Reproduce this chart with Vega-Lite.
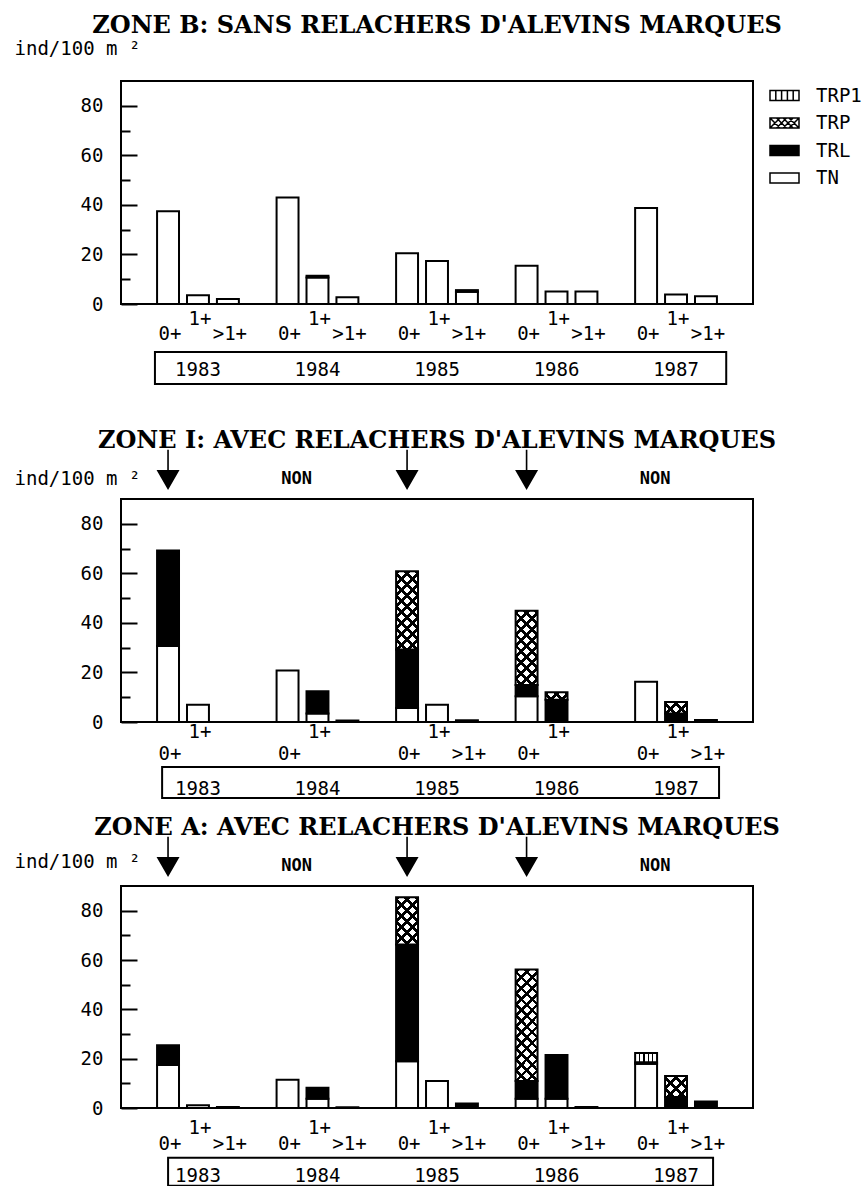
{
  "$schema": "https://vega.github.io/schema/vega-lite/v6.json",
  "background": "white",
  "padding": {"left": 13, "top": 13, "right": 0, "bottom": 0},
  "config": {
    "view": {"stroke": "black", "strokeWidth": 2},
    "title": {"font": "DejaVu Serif", "fontSize": 24, "fontWeight": "bold", "color": "black", "anchor": "middle", "frame": "group"},
    "text": {"font": "DejaVu Sans Mono", "fontSize": 19, "color": "black"}
  },
  "datasets": {
    "zoneB": [
      {"year": 1983, "age": "0+", "type": "TN", "value": 37.4},
      {"year": 1983, "age": "1+", "type": "TN", "value": 3.5},
      {"year": 1983, "age": ">1+", "type": "TN", "value": 2.0},
      {"year": 1984, "age": "0+", "type": "TN", "value": 43.0},
      {"year": 1984, "age": "1+", "type": "TN", "value": 10.7},
      {"year": 1984, "age": "1+", "type": "TRL", "value": 0.7},
      {"year": 1984, "age": ">1+", "type": "TN", "value": 2.7},
      {"year": 1985, "age": "0+", "type": "TN", "value": 20.5},
      {"year": 1985, "age": "1+", "type": "TN", "value": 17.4},
      {"year": 1985, "age": ">1+", "type": "TN", "value": 4.9},
      {"year": 1985, "age": ">1+", "type": "TRL", "value": 0.7},
      {"year": 1986, "age": "0+", "type": "TN", "value": 15.4},
      {"year": 1986, "age": "1+", "type": "TN", "value": 5.0},
      {"year": 1986, "age": ">1+", "type": "TN", "value": 5.0},
      {"year": 1987, "age": "0+", "type": "TN", "value": 38.7},
      {"year": 1987, "age": "1+", "type": "TN", "value": 3.8},
      {"year": 1987, "age": ">1+", "type": "TN", "value": 3.1}
    ],
    "zoneI": [
      {"year": 1983, "age": "0+", "type": "TN", "value": 30.7},
      {"year": 1983, "age": "0+", "type": "TRL", "value": 38.5},
      {"year": 1983, "age": "1+", "type": "TN", "value": 7.0},
      {"year": 1984, "age": "0+", "type": "TN", "value": 20.8},
      {"year": 1984, "age": "1+", "type": "TN", "value": 3.4},
      {"year": 1984, "age": "1+", "type": "TRL", "value": 9.0},
      {"year": 1984, "age": ">1+", "type": "TN", "value": 0.6},
      {"year": 1985, "age": "0+", "type": "TN", "value": 5.7},
      {"year": 1985, "age": "0+", "type": "TRL", "value": 23.6},
      {"year": 1985, "age": "0+", "type": "TRP", "value": 31.5},
      {"year": 1985, "age": "1+", "type": "TN", "value": 7.0},
      {"year": 1985, "age": ">1+", "type": "TN", "value": 0.7},
      {"year": 1986, "age": "0+", "type": "TN", "value": 10.4},
      {"year": 1986, "age": "0+", "type": "TRL", "value": 4.5},
      {"year": 1986, "age": "0+", "type": "TRP", "value": 30.0},
      {"year": 1986, "age": "1+", "type": "TRL", "value": 9.0},
      {"year": 1986, "age": "1+", "type": "TRP", "value": 3.0},
      {"year": 1987, "age": "0+", "type": "TN", "value": 16.2},
      {"year": 1987, "age": "1+", "type": "TRL", "value": 3.4},
      {"year": 1987, "age": "1+", "type": "TRP", "value": 4.7},
      {"year": 1987, "age": ">1+", "type": "TRL", "value": 0.8}
    ],
    "zoneA": [
      {"year": 1983, "age": "0+", "type": "TN", "value": 17.4},
      {"year": 1983, "age": "0+", "type": "TRL", "value": 8.0},
      {"year": 1983, "age": "1+", "type": "TN", "value": 1.1},
      {"year": 1983, "age": ">1+", "type": "TN", "value": 0.4},
      {"year": 1984, "age": "0+", "type": "TN", "value": 11.5},
      {"year": 1984, "age": "1+", "type": "TN", "value": 3.8},
      {"year": 1984, "age": "1+", "type": "TRL", "value": 4.4},
      {"year": 1984, "age": ">1+", "type": "TN", "value": 0.3},
      {"year": 1985, "age": "0+", "type": "TN", "value": 19.0},
      {"year": 1985, "age": "0+", "type": "TRL", "value": 47.3},
      {"year": 1985, "age": "0+", "type": "TRP", "value": 19.1},
      {"year": 1985, "age": "1+", "type": "TN", "value": 10.9},
      {"year": 1985, "age": ">1+", "type": "TRL", "value": 1.8},
      {"year": 1986, "age": "0+", "type": "TN", "value": 3.8},
      {"year": 1986, "age": "0+", "type": "TRL", "value": 7.1},
      {"year": 1986, "age": "0+", "type": "TRP", "value": 45.2},
      {"year": 1986, "age": "1+", "type": "TN", "value": 3.8},
      {"year": 1986, "age": "1+", "type": "TRL", "value": 17.7},
      {"year": 1986, "age": ">1+", "type": "TN", "value": 0.4},
      {"year": 1987, "age": "0+", "type": "TN", "value": 17.9},
      {"year": 1987, "age": "0+", "type": "TRL", "value": 0.6},
      {"year": 1987, "age": "0+", "type": "TRP1", "value": 3.8},
      {"year": 1987, "age": "1+", "type": "TRL", "value": 4.5},
      {"year": 1987, "age": "1+", "type": "TRP", "value": 8.5},
      {"year": 1987, "age": ">1+", "type": "TRL", "value": 2.6}
    ],
    "labelsAll": [
      {"year": 1983, "age": "0+"}, {"year": 1983, "age": "1+"}, {"year": 1983, "age": ">1+"},
      {"year": 1984, "age": "0+"}, {"year": 1984, "age": "1+"}, {"year": 1984, "age": ">1+"},
      {"year": 1985, "age": "0+"}, {"year": 1985, "age": "1+"}, {"year": 1985, "age": ">1+"},
      {"year": 1986, "age": "0+"}, {"year": 1986, "age": "1+"}, {"year": 1986, "age": ">1+"},
      {"year": 1987, "age": "0+"}, {"year": 1987, "age": "1+"}, {"year": 1987, "age": ">1+"}
    ],
    "labelsI": [
      {"year": 1983, "age": "0+"}, {"year": 1983, "age": "1+"},
      {"year": 1984, "age": "0+"}, {"year": 1984, "age": "1+"},
      {"year": 1985, "age": "0+"}, {"year": 1985, "age": "1+"}, {"year": 1985, "age": ">1+"},
      {"year": 1986, "age": "0+"}, {"year": 1986, "age": "1+"},
      {"year": 1987, "age": "0+"}, {"year": 1987, "age": "1+"}, {"year": 1987, "age": ">1+"}
    ],
    "releases": [
      {"year": 1983, "age": "0+", "release": "oui"},
      {"year": 1984, "age": "0+", "release": "NON"},
      {"year": 1985, "age": "0+", "release": "oui"},
      {"year": 1986, "age": "0+", "release": "oui"},
      {"year": 1987, "age": "0+", "release": "NON"}
    ]
  },
  "spacing": 40,
  "vconcat": [
    {
      "title": {"text": "ZONE B: SANS RELACHERS D'ALEVINS MARQUES", "offset": 1},
      "width": 632,
      "height": 223,
      "resolve": {"axis": {"y": "independent"}},
      "layer": [
        {
          "data": {"name": "zoneB"},
          "mark": {"type": "bar", "stroke": "black", "strokeWidth": 2},
          "encoding": {
            "x": {"field": "year", "type": "ordinal", "scale": {"paddingInner": 0, "paddingOuter": 0.144},
                  "axis": {"title": null, "labelAngle": 0, "ticks": false, "domain": false, "labelPadding": 65, "labelBaseline": "middle", "labelFont": "DejaVu Sans Mono", "labelFontSize": 19, "labelColor": "black"}},
            "xOffset": {"field": "age", "type": "nominal", "scale": {"domain": ["0+", "1+", ">1+"], "paddingInner": 0.267, "paddingOuter": 0.63}},
            "y": {"field": "value", "type": "quantitative", "stack": "zero", "scale": {"domain": [0, 90], "nice": false},
                  "axis": {"title": "ind/100 m ²", "titleAngle": 0, "titleAlign": "left", "titleBaseline": "middle", "titleX": -107, "titleY": -33, "titleFont": "DejaVu Sans Mono", "titleFontSize": 19, "titleFontWeight": "normal", "titleColor": "black",
                           "orient": "left", "values": [0, 20, 40, 60, 80], "tickSize": -16, "tickWidth": 2, "tickColor": "black",
                           "domain": false, "grid": false, "labelPadding": 34, "labelFont": "DejaVu Sans Mono", "labelFontSize": 19, "labelColor": "black"}},
            "fill": {"field": "type", "type": "nominal",
                     "scale": {"domain": ["TRP1", "TRP", "TRL", "TN"], "range": ["white", "white", "black", "white"]},
                     "legend": {"title": null, "orient": "none", "legendX": 648, "legendY": -1, "symbolType": "M-1,-0.34H1V0.34H-1Z", "symbolSize": 841, "symbolStrokeColor": "black", "symbolStrokeWidth": 1.5, "labelFont": "DejaVu Sans Mono", "labelFontSize": 19, "labelColor": "black", "labelOffset": 16, "rowPadding": 1.5, "padding": 0,
                                "encoding": {"symbols": {
                                  "fill": {"value": {"expr": "datum.value === 'TRL' ? 'black' : 'white'"}},
                                  "stroke": {"value": "black"},
                                  "strokeWidth": {"value": 1.5},
                                  "shape": {"value": {"expr": "datum.value === 'TRP1' ? 'M-1,-0.34H1V0.34H-1Z M-0.6,-0.34V0.34 M-0.2,-0.34V0.34 M0.2,-0.34V0.34 M0.6,-0.34V0.34' : datum.value === 'TRP' ? 'M-1,-0.34H1V0.34H-1Z M-1,-0.34L-0.31,0.34 M-0.55,-0.34L0.14,0.34 M-0.1,-0.34L0.59,0.34 M0.31,-0.34L1,0.34 M-1,0.34L-0.31,-0.34 M-0.55,0.34L0.14,-0.34 M-0.1,0.34L0.59,-0.34 M0.31,0.34L1,-0.34' : 'M-1,-0.34H1V0.34H-1Z'"}}
                                }}}},
            "order": {"field": "type", "sort": "ascending"}
          }
        },
        {
          "data": {"name": "labelsAll"},
          "transform": [{"filter": "datum.age === '1+'"}],
          "mark": {"type": "text", "dy": 15, "dx": 2, "baseline": "middle"},
          "encoding": {
            "x": {"field": "year", "type": "ordinal", "title": null},
            "xOffset": {"field": "age", "type": "nominal"},
            "y": {"datum": 0, "type": "quantitative", "axis": null},
            "text": {"field": "age"}
          }
        },
        {
          "data": {"name": "labelsAll"},
          "transform": [{"filter": "datum.age !== '1+'"}],
          "mark": {"type": "text", "dy": 30, "dx": 2, "baseline": "middle"},
          "encoding": {
            "x": {"field": "year", "type": "ordinal", "title": null},
            "xOffset": {"field": "age", "type": "nominal"},
            "y": {"datum": 0, "type": "quantitative", "axis": null},
            "text": {"field": "age"}
          }
        },
        {
          "data": {"values": [{}]},
          "mark": {"type": "rect", "fill": null, "stroke": "black", "strokeWidth": 2},
          "encoding": {
            "x": {"datum": 1983, "type": "ordinal", "bandPosition": 0.14, "title": null},
            "x2": {"datum": 1987, "bandPosition": 0.92},
            "y": {"datum": -19.4, "type": "quantitative",
                  "axis": {"orient": "left", "title": null, "values": [10, 30, 50, 70], "labels": false, "tickSize": -9, "tickWidth": 2, "tickColor": "black", "domain": false, "grid": false}},
            "y2": {"datum": -32.3}
          }
        }
      ]
    },
    {
      "spacing": 13,
      "vconcat": [
        {
          "title": {"text": "ZONE I: AVEC RELACHERS D'ALEVINS MARQUES", "offset": -3},
          "width": 632,
          "height": 223,
          "resolve": {"axis": {"y": "independent"}},
          "layer": [
            {
              "data": {"name": "zoneI"},
              "mark": {"type": "bar", "stroke": "black", "strokeWidth": 2},
              "encoding": {
                "x": {"field": "year", "type": "ordinal", "scale": {"paddingInner": 0, "paddingOuter": 0.144},
                      "axis": {"title": null, "labelAngle": 0, "ticks": false, "domain": false, "labelPadding": 66, "labelBaseline": "middle", "labelFont": "DejaVu Sans Mono", "labelFontSize": 19, "labelColor": "black"}},
                "xOffset": {"field": "age", "type": "nominal", "scale": {"domain": ["0+", "1+", ">1+"], "paddingInner": 0.267, "paddingOuter": 0.63}},
                "y": {"field": "value", "type": "quantitative", "stack": "zero", "scale": {"domain": [0, 90], "nice": false},
                      "axis": {"title": "ind/100 m ²", "titleAngle": 0, "titleAlign": "left", "titleBaseline": "middle", "titleX": -107, "titleY": -21, "titleFont": "DejaVu Sans Mono", "titleFontSize": 19, "titleFontWeight": "normal", "titleColor": "black",
                               "orient": "left", "values": [0, 20, 40, 60, 80], "tickSize": -16, "tickWidth": 2, "tickColor": "black",
                               "domain": false, "grid": false, "labelPadding": 34, "labelFont": "DejaVu Sans Mono", "labelFontSize": 19, "labelColor": "black"}},
                "fill": {"field": "type", "type": "nominal",
                         "scale": {"domain": ["TRP1", "TRP", "TRL", "TN"], "range": ["white", "white", "black", "white"]},
                         "legend": {"title": null, "orient": "none", "legendX": 648, "legendY": -1, "symbolType": "M-1,-0.34H1V0.34H-1Z", "symbolSize": 841, "symbolStrokeColor": "black", "symbolStrokeWidth": 1.5, "labelFont": "DejaVu Sans Mono", "labelFontSize": 19, "labelColor": "black", "labelOffset": 16, "rowPadding": 1.5, "padding": 0,
                                    "encoding": {"symbols": {
                                      "fill": {"value": {"expr": "datum.value === 'TRL' ? 'black' : 'white'"}},
                                      "stroke": {"value": "black"},
                                      "strokeWidth": {"value": 1.5},
                                      "shape": {"value": {"expr": "datum.value === 'TRP1' ? 'M-1,-0.34H1V0.34H-1Z M-0.6,-0.34V0.34 M-0.2,-0.34V0.34 M0.2,-0.34V0.34 M0.6,-0.34V0.34' : datum.value === 'TRP' ? 'M-1,-0.34H1V0.34H-1Z M-1,-0.34L-0.31,0.34 M-0.55,-0.34L0.14,0.34 M-0.1,-0.34L0.59,0.34 M0.31,-0.34L1,0.34 M-1,0.34L-0.31,-0.34 M-0.55,0.34L0.14,-0.34 M-0.1,0.34L0.59,-0.34 M0.31,0.34L1,-0.34' : 'M-1,-0.34H1V0.34H-1Z'"}}
                                    }}}},
                "order": {"field": "type", "sort": "ascending"}
              }
            },
            {
              "data": {"name": "zoneI"},
              "transform": [{"stack": "value", "groupby": ["year", "age"], "sort": [{"field": "type", "order": "ascending"}], "as": ["v0", "v1"]}, {"filter": "datum.type === 'TRP'"}],
              "mark": {"type": "bar", "strokeWidth": 0, "fill": {"expr": "{gradient: 'linear', x1: 0, y1: 0, x2: 7 / (1 + pow((datum.v1 - datum.v0) * 0.1126, 2)), y2: 7 * (datum.v1 - datum.v0) * 0.1126 / (1 + pow((datum.v1 - datum.v0) * 0.1126, 2)), stops: [{offset:0,color:'black'},{offset:0.025,color:'black'},{offset:0.025,color:'transparent'},{offset:0.0714,color:'transparent'},{offset:0.0714,color:'black'},{offset:0.0964,color:'black'},{offset:0.0964,color:'transparent'},{offset:0.1429,color:'transparent'},{offset:0.1429,color:'black'},{offset:0.1679,color:'black'},{offset:0.1679,color:'transparent'},{offset:0.2143,color:'transparent'},{offset:0.2143,color:'black'},{offset:0.2393,color:'black'},{offset:0.2393,color:'transparent'},{offset:0.2857,color:'transparent'},{offset:0.2857,color:'black'},{offset:0.3107,color:'black'},{offset:0.3107,color:'transparent'},{offset:0.3571,color:'transparent'},{offset:0.3571,color:'black'},{offset:0.3821,color:'black'},{offset:0.3821,color:'transparent'},{offset:0.4286,color:'transparent'},{offset:0.4286,color:'black'},{offset:0.4536,color:'black'},{offset:0.4536,color:'transparent'},{offset:0.5,color:'transparent'},{offset:0.5,color:'black'},{offset:0.525,color:'black'},{offset:0.525,color:'transparent'},{offset:0.5714,color:'transparent'},{offset:0.5714,color:'black'},{offset:0.5964,color:'black'},{offset:0.5964,color:'transparent'},{offset:0.6429,color:'transparent'},{offset:0.6429,color:'black'},{offset:0.6679,color:'black'},{offset:0.6679,color:'transparent'},{offset:0.7143,color:'transparent'},{offset:0.7143,color:'black'},{offset:0.7393,color:'black'},{offset:0.7393,color:'transparent'},{offset:0.7857,color:'transparent'},{offset:0.7857,color:'black'},{offset:0.8107,color:'black'},{offset:0.8107,color:'transparent'},{offset:0.8571,color:'transparent'},{offset:0.8571,color:'black'},{offset:0.8821,color:'black'},{offset:0.8821,color:'transparent'},{offset:0.9286,color:'transparent'},{offset:0.9286,color:'black'},{offset:0.9536,color:'black'},{offset:0.9536,color:'transparent'},{offset:1,color:'transparent'}]}"}},
              "encoding": {
                "x": {"field": "year", "type": "ordinal", "title": null},
                "xOffset": {"field": "age", "type": "nominal"},
                "y": {"field": "v1", "type": "quantitative", "axis": null},
                "y2": {"field": "v0"}
              }
            },
            {
              "data": {"name": "zoneI"},
              "transform": [{"stack": "value", "groupby": ["year", "age"], "sort": [{"field": "type", "order": "ascending"}], "as": ["v0", "v1"]}, {"filter": "datum.type === 'TRP'"}],
              "mark": {"type": "bar", "strokeWidth": 0, "fill": {"expr": "{gradient: 'linear', x1: 1, y1: 0, x2: 1 - 7 / (1 + pow((datum.v1 - datum.v0) * 0.1126, 2)), y2: 7 * (datum.v1 - datum.v0) * 0.1126 / (1 + pow((datum.v1 - datum.v0) * 0.1126, 2)), stops: [{offset:0,color:'black'},{offset:0.025,color:'black'},{offset:0.025,color:'transparent'},{offset:0.0714,color:'transparent'},{offset:0.0714,color:'black'},{offset:0.0964,color:'black'},{offset:0.0964,color:'transparent'},{offset:0.1429,color:'transparent'},{offset:0.1429,color:'black'},{offset:0.1679,color:'black'},{offset:0.1679,color:'transparent'},{offset:0.2143,color:'transparent'},{offset:0.2143,color:'black'},{offset:0.2393,color:'black'},{offset:0.2393,color:'transparent'},{offset:0.2857,color:'transparent'},{offset:0.2857,color:'black'},{offset:0.3107,color:'black'},{offset:0.3107,color:'transparent'},{offset:0.3571,color:'transparent'},{offset:0.3571,color:'black'},{offset:0.3821,color:'black'},{offset:0.3821,color:'transparent'},{offset:0.4286,color:'transparent'},{offset:0.4286,color:'black'},{offset:0.4536,color:'black'},{offset:0.4536,color:'transparent'},{offset:0.5,color:'transparent'},{offset:0.5,color:'black'},{offset:0.525,color:'black'},{offset:0.525,color:'transparent'},{offset:0.5714,color:'transparent'},{offset:0.5714,color:'black'},{offset:0.5964,color:'black'},{offset:0.5964,color:'transparent'},{offset:0.6429,color:'transparent'},{offset:0.6429,color:'black'},{offset:0.6679,color:'black'},{offset:0.6679,color:'transparent'},{offset:0.7143,color:'transparent'},{offset:0.7143,color:'black'},{offset:0.7393,color:'black'},{offset:0.7393,color:'transparent'},{offset:0.7857,color:'transparent'},{offset:0.7857,color:'black'},{offset:0.8107,color:'black'},{offset:0.8107,color:'transparent'},{offset:0.8571,color:'transparent'},{offset:0.8571,color:'black'},{offset:0.8821,color:'black'},{offset:0.8821,color:'transparent'},{offset:0.9286,color:'transparent'},{offset:0.9286,color:'black'},{offset:0.9536,color:'black'},{offset:0.9536,color:'transparent'},{offset:1,color:'transparent'}]}"}},
              "encoding": {
                "x": {"field": "year", "type": "ordinal", "title": null},
                "xOffset": {"field": "age", "type": "nominal"},
                "y": {"field": "v1", "type": "quantitative", "axis": null},
                "y2": {"field": "v0"}
              }
            },
            {
              "data": {"name": "labelsI"},
              "transform": [{"filter": "datum.age === '1+'"}],
              "mark": {"type": "text", "dy": 10, "dx": 2, "baseline": "middle"},
              "encoding": {
                "x": {"field": "year", "type": "ordinal", "title": null},
                "xOffset": {"field": "age", "type": "nominal"},
                "y": {"datum": 0, "type": "quantitative", "axis": null},
                "text": {"field": "age"}
              }
            },
            {
              "data": {"name": "labelsI"},
              "transform": [{"filter": "datum.age !== '1+'"}],
              "mark": {"type": "text", "dy": 32, "dx": 2, "baseline": "middle"},
              "encoding": {
                "x": {"field": "year", "type": "ordinal", "title": null},
                "xOffset": {"field": "age", "type": "nominal"},
                "y": {"datum": 0, "type": "quantitative", "axis": null},
                "text": {"field": "age"}
              }
            },
            {
              "data": {"values": [{}]},
              "mark": {"type": "rect", "fill": null, "stroke": "black", "strokeWidth": 2},
              "encoding": {
                "x": {"datum": 1983, "type": "ordinal", "bandPosition": 0.2, "title": null},
                "x2": {"datum": 1987, "bandPosition": 0.86},
                "y": {"datum": -18.2, "type": "quantitative",
                      "axis": {"orient": "left", "title": null, "values": [10, 30, 50, 70], "labels": false, "tickSize": -9, "tickWidth": 2, "tickColor": "black", "domain": false, "grid": false}},
                "y2": {"datum": -30.7}
              }
            },
            {
              "data": {"name": "releases"},
              "transform": [{"filter": "datum.release === 'oui'"}],
              "mark": {"type": "point", "shape": "M-0.07,-3.5L0.07,-3.5L0.07,-1.74L1,-1.74L0,0L-1,-1.74L-0.07,-1.74Z", "size": 529, "filled": true, "fill": "black", "opacity": 1},
              "encoding": {
                "x": {"field": "year", "type": "ordinal", "title": null},
                "xOffset": {"field": "age", "type": "nominal"},
                "y": {"datum": 93.6, "type": "quantitative", "axis": null}
              }
            },
            {
              "data": {"name": "releases"},
              "transform": [{"filter": "datum.release === 'NON'"}],
              "mark": {"type": "text", "dx": 9, "baseline": "middle", "fontWeight": "bold", "fontSize": 17},
              "encoding": {
                "x": {"field": "year", "type": "ordinal", "title": null},
                "xOffset": {"field": "age", "type": "nominal"},
                "y": {"datum": 98, "type": "quantitative", "axis": null},
                "text": {"field": "release"}
              }
            }
          ]
        },
        {
          "title": {"text": "ZONE A: AVEC RELACHERS D'ALEVINS MARQUES", "offset": -3},
          "width": 632,
          "height": 222,
          "resolve": {"axis": {"y": "independent"}},
          "layer": [
            {
              "data": {"name": "zoneA"},
              "mark": {"type": "bar", "stroke": "black", "strokeWidth": 2},
              "encoding": {
                "x": {"field": "year", "type": "ordinal", "scale": {"paddingInner": 0, "paddingOuter": 0.144},
                      "axis": {"title": null, "labelAngle": 0, "ticks": false, "domain": false, "labelPadding": 67, "labelBaseline": "middle", "labelFont": "DejaVu Sans Mono", "labelFontSize": 19, "labelColor": "black"}},
                "xOffset": {"field": "age", "type": "nominal", "scale": {"domain": ["0+", "1+", ">1+"], "paddingInner": 0.267, "paddingOuter": 0.63}},
                "y": {"field": "value", "type": "quantitative", "stack": "zero", "scale": {"domain": [0, 90], "nice": false},
                      "axis": {"title": "ind/100 m ²", "titleAngle": 0, "titleAlign": "left", "titleBaseline": "middle", "titleX": -107, "titleY": -25, "titleFont": "DejaVu Sans Mono", "titleFontSize": 19, "titleFontWeight": "normal", "titleColor": "black",
                               "orient": "left", "values": [0, 20, 40, 60, 80], "tickSize": -16, "tickWidth": 2, "tickColor": "black",
                               "domain": false, "grid": false, "labelPadding": 34, "labelFont": "DejaVu Sans Mono", "labelFontSize": 19, "labelColor": "black"}},
                "fill": {"field": "type", "type": "nominal",
                         "scale": {"domain": ["TRP1", "TRP", "TRL", "TN"], "range": ["white", "white", "black", "white"]},
                         "legend": {"title": null, "orient": "none", "legendX": 648, "legendY": -1, "symbolType": "M-1,-0.34H1V0.34H-1Z", "symbolSize": 841, "symbolStrokeColor": "black", "symbolStrokeWidth": 1.5, "labelFont": "DejaVu Sans Mono", "labelFontSize": 19, "labelColor": "black", "labelOffset": 16, "rowPadding": 1.5, "padding": 0,
                                    "encoding": {"symbols": {
                                      "fill": {"value": {"expr": "datum.value === 'TRL' ? 'black' : 'white'"}},
                                      "stroke": {"value": "black"},
                                      "strokeWidth": {"value": 1.5},
                                      "shape": {"value": {"expr": "datum.value === 'TRP1' ? 'M-1,-0.34H1V0.34H-1Z M-0.6,-0.34V0.34 M-0.2,-0.34V0.34 M0.2,-0.34V0.34 M0.6,-0.34V0.34' : datum.value === 'TRP' ? 'M-1,-0.34H1V0.34H-1Z M-1,-0.34L-0.31,0.34 M-0.55,-0.34L0.14,0.34 M-0.1,-0.34L0.59,0.34 M0.31,-0.34L1,0.34 M-1,0.34L-0.31,-0.34 M-0.55,0.34L0.14,-0.34 M-0.1,0.34L0.59,-0.34 M0.31,0.34L1,-0.34' : 'M-1,-0.34H1V0.34H-1Z'"}}
                                    }}}},
                "order": {"field": "type", "sort": "ascending"}
              }
            },
            {
              "data": {"name": "zoneA"},
              "transform": [{"stack": "value", "groupby": ["year", "age"], "sort": [{"field": "type", "order": "ascending"}], "as": ["v0", "v1"]}, {"filter": "datum.type === 'TRP1'"}],
              "mark": {"type": "bar", "strokeWidth": 0, "fill": {"gradient": "linear", "x1": 0, "y1": 0, "x2": 1, "y2": 0, "stops": [
                {"offset": 0, "color": "transparent"}, {"offset": 0.165, "color": "transparent"}, {"offset": 0.165, "color": "black"}, {"offset": 0.235, "color": "black"},
                {"offset": 0.235, "color": "transparent"}, {"offset": 0.365, "color": "transparent"}, {"offset": 0.365, "color": "black"}, {"offset": 0.435, "color": "black"},
                {"offset": 0.435, "color": "transparent"}, {"offset": 0.565, "color": "transparent"}, {"offset": 0.565, "color": "black"}, {"offset": 0.635, "color": "black"},
                {"offset": 0.635, "color": "transparent"}, {"offset": 0.765, "color": "transparent"}, {"offset": 0.765, "color": "black"}, {"offset": 0.835, "color": "black"},
                {"offset": 0.835, "color": "transparent"}, {"offset": 1, "color": "transparent"}]}},
              "encoding": {
                "x": {"field": "year", "type": "ordinal", "title": null},
                "xOffset": {"field": "age", "type": "nominal"},
                "y": {"field": "v1", "type": "quantitative", "axis": null},
                "y2": {"field": "v0"}
              }
            },
            {
              "data": {"name": "zoneA"},
              "transform": [{"stack": "value", "groupby": ["year", "age"], "sort": [{"field": "type", "order": "ascending"}], "as": ["v0", "v1"]}, {"filter": "datum.type === 'TRP'"}],
              "mark": {"type": "bar", "strokeWidth": 0, "fill": {"expr": "{gradient: 'linear', x1: 0, y1: 0, x2: 7 / (1 + pow((datum.v1 - datum.v0) * 0.1122, 2)), y2: 7 * (datum.v1 - datum.v0) * 0.1122 / (1 + pow((datum.v1 - datum.v0) * 0.1122, 2)), stops: [{offset:0,color:'black'},{offset:0.025,color:'black'},{offset:0.025,color:'transparent'},{offset:0.0714,color:'transparent'},{offset:0.0714,color:'black'},{offset:0.0964,color:'black'},{offset:0.0964,color:'transparent'},{offset:0.1429,color:'transparent'},{offset:0.1429,color:'black'},{offset:0.1679,color:'black'},{offset:0.1679,color:'transparent'},{offset:0.2143,color:'transparent'},{offset:0.2143,color:'black'},{offset:0.2393,color:'black'},{offset:0.2393,color:'transparent'},{offset:0.2857,color:'transparent'},{offset:0.2857,color:'black'},{offset:0.3107,color:'black'},{offset:0.3107,color:'transparent'},{offset:0.3571,color:'transparent'},{offset:0.3571,color:'black'},{offset:0.3821,color:'black'},{offset:0.3821,color:'transparent'},{offset:0.4286,color:'transparent'},{offset:0.4286,color:'black'},{offset:0.4536,color:'black'},{offset:0.4536,color:'transparent'},{offset:0.5,color:'transparent'},{offset:0.5,color:'black'},{offset:0.525,color:'black'},{offset:0.525,color:'transparent'},{offset:0.5714,color:'transparent'},{offset:0.5714,color:'black'},{offset:0.5964,color:'black'},{offset:0.5964,color:'transparent'},{offset:0.6429,color:'transparent'},{offset:0.6429,color:'black'},{offset:0.6679,color:'black'},{offset:0.6679,color:'transparent'},{offset:0.7143,color:'transparent'},{offset:0.7143,color:'black'},{offset:0.7393,color:'black'},{offset:0.7393,color:'transparent'},{offset:0.7857,color:'transparent'},{offset:0.7857,color:'black'},{offset:0.8107,color:'black'},{offset:0.8107,color:'transparent'},{offset:0.8571,color:'transparent'},{offset:0.8571,color:'black'},{offset:0.8821,color:'black'},{offset:0.8821,color:'transparent'},{offset:0.9286,color:'transparent'},{offset:0.9286,color:'black'},{offset:0.9536,color:'black'},{offset:0.9536,color:'transparent'},{offset:1,color:'transparent'}]}"}},
              "encoding": {
                "x": {"field": "year", "type": "ordinal", "title": null},
                "xOffset": {"field": "age", "type": "nominal"},
                "y": {"field": "v1", "type": "quantitative", "axis": null},
                "y2": {"field": "v0"}
              }
            },
            {
              "data": {"name": "zoneA"},
              "transform": [{"stack": "value", "groupby": ["year", "age"], "sort": [{"field": "type", "order": "ascending"}], "as": ["v0", "v1"]}, {"filter": "datum.type === 'TRP'"}],
              "mark": {"type": "bar", "strokeWidth": 0, "fill": {"expr": "{gradient: 'linear', x1: 1, y1: 0, x2: 1 - 7 / (1 + pow((datum.v1 - datum.v0) * 0.1122, 2)), y2: 7 * (datum.v1 - datum.v0) * 0.1122 / (1 + pow((datum.v1 - datum.v0) * 0.1122, 2)), stops: [{offset:0,color:'black'},{offset:0.025,color:'black'},{offset:0.025,color:'transparent'},{offset:0.0714,color:'transparent'},{offset:0.0714,color:'black'},{offset:0.0964,color:'black'},{offset:0.0964,color:'transparent'},{offset:0.1429,color:'transparent'},{offset:0.1429,color:'black'},{offset:0.1679,color:'black'},{offset:0.1679,color:'transparent'},{offset:0.2143,color:'transparent'},{offset:0.2143,color:'black'},{offset:0.2393,color:'black'},{offset:0.2393,color:'transparent'},{offset:0.2857,color:'transparent'},{offset:0.2857,color:'black'},{offset:0.3107,color:'black'},{offset:0.3107,color:'transparent'},{offset:0.3571,color:'transparent'},{offset:0.3571,color:'black'},{offset:0.3821,color:'black'},{offset:0.3821,color:'transparent'},{offset:0.4286,color:'transparent'},{offset:0.4286,color:'black'},{offset:0.4536,color:'black'},{offset:0.4536,color:'transparent'},{offset:0.5,color:'transparent'},{offset:0.5,color:'black'},{offset:0.525,color:'black'},{offset:0.525,color:'transparent'},{offset:0.5714,color:'transparent'},{offset:0.5714,color:'black'},{offset:0.5964,color:'black'},{offset:0.5964,color:'transparent'},{offset:0.6429,color:'transparent'},{offset:0.6429,color:'black'},{offset:0.6679,color:'black'},{offset:0.6679,color:'transparent'},{offset:0.7143,color:'transparent'},{offset:0.7143,color:'black'},{offset:0.7393,color:'black'},{offset:0.7393,color:'transparent'},{offset:0.7857,color:'transparent'},{offset:0.7857,color:'black'},{offset:0.8107,color:'black'},{offset:0.8107,color:'transparent'},{offset:0.8571,color:'transparent'},{offset:0.8571,color:'black'},{offset:0.8821,color:'black'},{offset:0.8821,color:'transparent'},{offset:0.9286,color:'transparent'},{offset:0.9286,color:'black'},{offset:0.9536,color:'black'},{offset:0.9536,color:'transparent'},{offset:1,color:'transparent'}]}"}},
              "encoding": {
                "x": {"field": "year", "type": "ordinal", "title": null},
                "xOffset": {"field": "age", "type": "nominal"},
                "y": {"field": "v1", "type": "quantitative", "axis": null},
                "y2": {"field": "v0"}
              }
            },
            {
              "data": {"name": "labelsAll"},
              "transform": [{"filter": "datum.age === '1+'"}],
              "mark": {"type": "text", "dy": 20, "dx": 2, "baseline": "middle"},
              "encoding": {
                "x": {"field": "year", "type": "ordinal", "title": null},
                "xOffset": {"field": "age", "type": "nominal"},
                "y": {"datum": 0, "type": "quantitative", "axis": null},
                "text": {"field": "age"}
              }
            },
            {
              "data": {"name": "labelsAll"},
              "transform": [{"filter": "datum.age !== '1+'"}],
              "mark": {"type": "text", "dy": 36, "dx": 2, "baseline": "middle"},
              "encoding": {
                "x": {"field": "year", "type": "ordinal", "title": null},
                "xOffset": {"field": "age", "type": "nominal"},
                "y": {"datum": 0, "type": "quantitative", "axis": null},
                "text": {"field": "age"}
              }
            },
            {
              "data": {"values": [{}]},
              "mark": {"type": "rect", "fill": null, "stroke": "black", "strokeWidth": 2},
              "encoding": {
                "x": {"datum": 1983, "type": "ordinal", "bandPosition": 0.25, "title": null},
                "x2": {"datum": 1987, "bandPosition": 0.81},
                "y": {"datum": -20.2, "type": "quantitative",
                      "axis": {"orient": "left", "title": null, "values": [10, 30, 50, 70], "labels": false, "tickSize": -9, "tickWidth": 2, "tickColor": "black", "domain": false, "grid": false}},
                "y2": {"datum": -31.5}
              }
            },
            {
              "data": {"name": "releases"},
              "transform": [{"filter": "datum.release === 'oui'"}],
              "mark": {"type": "point", "shape": "M-0.07,-3.5L0.07,-3.5L0.07,-1.74L1,-1.74L0,0L-1,-1.74L-0.07,-1.74Z", "size": 529, "filled": true, "fill": "black", "opacity": 1},
              "encoding": {
                "x": {"field": "year", "type": "ordinal", "title": null},
                "xOffset": {"field": "age", "type": "nominal"},
                "y": {"datum": 93.6, "type": "quantitative", "axis": null}
              }
            },
            {
              "data": {"name": "releases"},
              "transform": [{"filter": "datum.release === 'NON'"}],
              "mark": {"type": "text", "dx": 9, "baseline": "middle", "fontWeight": "bold", "fontSize": 17},
              "encoding": {
                "x": {"field": "year", "type": "ordinal", "title": null},
                "xOffset": {"field": "age", "type": "nominal"},
                "y": {"datum": 98, "type": "quantitative", "axis": null},
                "text": {"field": "release"}
              }
            }
          ]
        }
      ]
    }
  ]
}
